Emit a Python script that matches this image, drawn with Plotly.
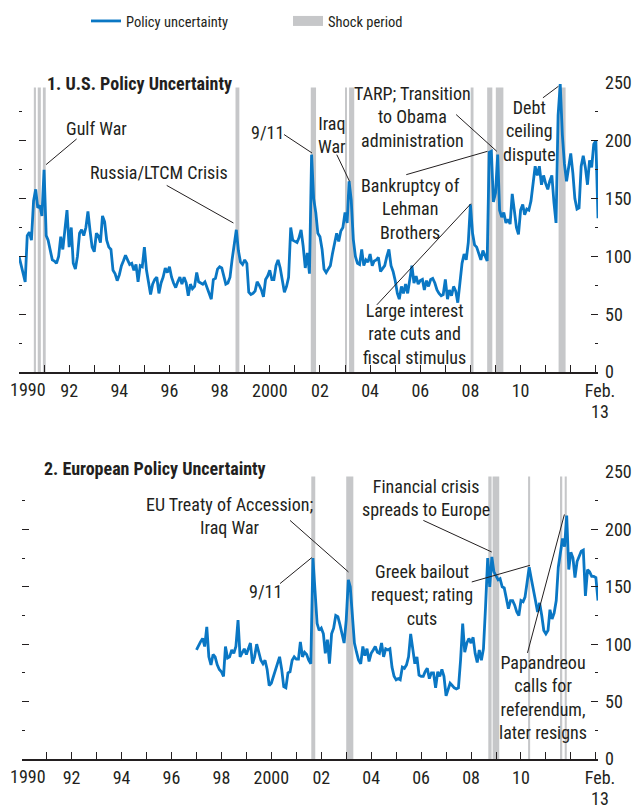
import pandas as pd
import plotly.graph_objects as go

# ---------------- data ----------------
us_values = [
    100, 92, 87, 78, 118, 121, 114, 148, 158, 142, 144, 135,      # 1990
    175, 118, 114, 106, 97, 96, 94, 100, 117, 106, 122, 140,      # 1991
    108, 125, 94, 89, 100, 120, 123, 118, 125, 139, 122, 108,     # 1992
    104, 120, 118, 112, 135, 130, 114, 108, 106, 88, 85, 79,      # 1993
    84, 92, 96, 101, 97, 93, 94, 88, 93, 78, 92, 91,              # 1994
    108, 88, 78, 67, 76, 80, 82, 68, 77, 82, 90, 86,              # 1995
    91, 82, 77, 73, 78, 82, 76, 82, 77, 66, 76, 72,               # 1996
    74, 86, 78, 77, 76, 78, 73, 67, 63, 80, 81, 89,               # 1997
    91, 90, 82, 76, 77, 82, 97, 112, 123, 105, 95, 93,            # 1998
    97, 94, 69, 67, 68, 70, 78, 75, 71, 65, 80, 83,               # 1999
    88, 80, 80, 92, 97, 90, 80, 69, 74, 82, 125, 114,             # 2000
    113, 112, 116, 123, 109, 90, 103, 85, 188, 150, 138, 120,     # 2001
    117, 106, 89, 86, 89, 92, 102, 112, 120, 113, 122, 125,       # 2002
    138, 129, 165, 149, 115, 100, 94, 93, 106, 92, 97, 95,        # 2003
    102, 92, 96, 97, 99, 87, 89, 92, 100, 106, 92, 87,            # 2004
    79, 68, 63, 74, 68, 76, 68, 79, 92, 77, 83, 76,               # 2005
    79, 80, 71, 79, 74, 80, 81, 77, 71, 68, 66, 67,               # 2006
    80, 63, 71, 66, 74, 70, 60, 77, 94, 102, 97, 112,             # 2007
    145, 120, 110, 108, 103, 97, 105, 100, 96, 190, 191, 147,     # 2008
    155, 188, 140, 134, 138, 129, 132, 128, 154, 140, 125, 119,   # 2009
    140, 145, 136, 141, 140, 148, 165, 178, 170, 178, 162, 170,   # 2010
    163, 158, 165, 170, 147, 129, 222, 249, 205, 180, 165, 178,   # 2011
    189, 172, 150, 141, 142, 178, 187, 177, 162, 183, 177, 197,   # 2012
    200, 133,                                                     # 2013
]

eu_values = [
    95, 99, 102, 105, 98, 115, 89, 82, 91, 89, 82, 78,            # 1997
    76, 72, 98, 88, 89, 95, 92, 98, 121, 89, 93, 96,              # 1998
    91, 96, 101, 83, 89, 100, 92, 86, 83, 86, 78, 64,             # 1999
    66, 72, 78, 83, 89, 78, 63, 62, 75, 76, 86, 89,               # 2000
    87, 87, 102, 89, 93, 91, 86, 83, 175, 147, 118, 112,          # 2001
    114, 109, 92, 104, 83, 109, 114, 125, 124, 117, 109, 101,     # 2002
    121, 156, 150, 124, 101, 93, 86, 83, 98, 90, 96, 85,          # 2003
    92, 95, 98, 93, 92, 101, 89, 96, 95, 96, 80, 72,              # 2004
    69, 70, 69, 80, 79, 82, 89, 109, 93, 83, 89, 73,              # 2005
    72, 72, 76, 79, 70, 75, 75, 62, 76, 72, 78, 72,               # 2006
    55, 62, 66, 64, 62, 61, 62, 86, 118, 93, 101, 105,            # 2007
    101, 106, 92, 84, 95, 86, 96, 133, 175, 150, 176, 163,        # 2008
    160, 156, 157, 150, 149, 138, 131, 138, 138, 134, 128, 125,   # 2009
    138, 137, 141, 154, 167, 157, 149, 138, 128, 136, 125, 112,   # 2010
    109, 112, 130, 122, 127, 138, 167, 180, 192, 185, 212, 165,   # 2011
    180, 175, 158, 172, 177, 181, 182, 142, 165, 163, 159, 159,   # 2012
    158, 138,                                                     # 2013
]

us_shock_start = ["1990-08-05", "1990-10-01", "1990-12-15", "1998-08-20", "2001-08-20",
                  "2003-01-01", "2003-03-01", "2008-01-05", "2008-09-01", "2009-01-05",
                  "2011-07-08"]
us_shock_end = ["1990-09-05", "1990-11-15", "1991-01-25", "1998-10-15", "2001-11-05",
                "2003-01-25", "2003-05-15", "2008-02-15", "2008-11-15", "2009-04-25",
                "2011-10-18"]

eu_shock_start = ["2001-08-08", "2003-01-01", "2008-09-10", "2008-11-12", "2010-04-15",
                  "2011-07-26", "2011-10-05"]
eu_shock_end = ["2001-10-05", "2003-04-15", "2008-10-28", "2009-02-17", "2010-05-15",
                "2011-08-28", "2011-11-02"]

NB = "\u00a0"
tick_years = list(range(1990, 2013))
# the first label ("1990") sits right of its tick in the original, so it is placed separately
first_tick_label = "1990"
tick_labels = ["", "", "92", "", "94", "", "96", "", "98", "", "2000", "",
               "02", "", "04", "", "06", "", "08", "", "10", "", ""]
end_tick_label = NB * 2 + "Feb."
end_tick_label_2 = "13"

# ---------------- style ----------------
FONT = "Roboto Condensed, Liberation Sans Narrow, Arial Narrow, sans-serif"
INK = "#231f20"
BLUE = "#0a77c4"
GRAY = "#c6c7c9"
SHOCK_TOP = 246

us_dates = pd.date_range("1990-01-01", periods=len(us_values), freq="MS")
eu_dates = pd.date_range("1997-01-01", periods=len(eu_values), freq="MS")


def fy(v):
    y = int(v)
    return pd.Timestamp(y, 1, 1) + pd.Timedelta(days=(v - y) * 365.25)


def shock_bars(starts, ends, xa, ya):
    s = pd.to_datetime(starts)
    e = pd.to_datetime(ends)
    mid = s + (e - s) / 2
    width = [(b - a) / pd.Timedelta(milliseconds=1) for a, b in zip(s, e)]
    return go.Bar(x=mid, y=[SHOCK_TOP] * len(s), width=width, base=0,
                  marker=dict(color=GRAY, line=dict(width=0)),
                  showlegend=False, hoverinfo="skip", xaxis=xa, yaxis=ya)


fig = go.Figure()
fig.add_trace(shock_bars(us_shock_start, us_shock_end, "x", "y"))
fig.add_trace(shock_bars(eu_shock_start, eu_shock_end, "x2", "y2"))
fig.add_trace(go.Scatter(x=us_dates, y=us_values, mode="lines", name="Policy uncertainty",
                         line=dict(color=BLUE, width=2.8), xaxis="x", yaxis="y",
                         legend="legend"))
fig.add_trace(go.Scatter(x=eu_dates, y=eu_values, mode="lines", showlegend=False,
                         line=dict(color=BLUE, width=2.8), xaxis="x2", yaxis="y2"))
fig.add_trace(go.Scatter(x=[None], y=[None], mode="lines", name="Shock period",
                         line=dict(color=GRAY, width=10), xaxis="x", yaxis="y",
                         legend="legend2"))

tickvals = [pd.Timestamp(y, 1, 1) for y in tick_years] + [pd.Timestamp(2013, 1, 1)]
ticktext = tick_labels + [end_tick_label]

xcommon = dict(type="date", range=["1990-01-01", "2013-02-01"], tickmode="array",
               tickvals=tickvals, ticktext=ticktext, ticks="inside", ticklen=7,
               tickwidth=1.2, tickcolor=INK, showline=True, linecolor=INK, linewidth=1.5,
               showgrid=False, zeroline=False, tickfont=dict(family=FONT, size=18, color=INK),
               ticklabelstandoff=2)
ycommon = dict(side="right", range=[0, 250], tickmode="linear", tick0=0, dtick=50,
               ticks="inside", ticklen=7, tickwidth=1.2, tickcolor=INK, mirror="ticks",
               showline=False, showgrid=False, zeroline=False,
               minor=dict(dtick=25, tick0=0, ticks="inside", ticklen=3, tickwidth=1.2,
                          tickcolor=INK, showgrid=False),
               tickfont=dict(family=FONT, size=18, color=INK), ticklabelstandoff=6)

fig.update_layout(
    width=636, height=808,
    margin=dict(l=19, r=38, t=83, b=49, autoexpand=False),
    paper_bgcolor="white", plot_bgcolor="white",
    font=dict(family=FONT, size=18, color=INK),
    barmode="overlay",
    xaxis=dict(domain=[0, 1], anchor="y", **xcommon),
    xaxis2=dict(domain=[0.0047, 1], anchor="y2", **xcommon),
    yaxis=dict(domain=[0.5725, 1], anchor="x", **ycommon),
    yaxis2=dict(domain=[0, 0.4246], anchor="x2", **ycommon),
    legend=dict(x=0.1157, y=1.0917, xanchor="left", yanchor="middle", orientation="h",
                bgcolor="rgba(0,0,0,0)", font=dict(family=FONT, size=14.5, color=INK)),
    legend2=dict(x=0.4646, y=1.0917, xanchor="left", yanchor="middle", orientation="h",
                 bgcolor="rgba(0,0,0,0)", font=dict(family=FONT, size=14.5, color=INK)),
    hovermode=False,
)

# first x label and second line of the last x label ("Feb." / "13") for each panel
for y_first, y_end in ((0.5466, 0.5141), (-0.0259, -0.0577)):
    fig.add_annotation(text=first_tick_label, xref="paper", yref="paper", x=0.0147, y=y_first,
                       xanchor="center", yanchor="middle", showarrow=False,
                       font=dict(family=FONT, size=18, color=INK))
    fig.add_annotation(text=end_tick_label_2, xref="paper", yref="paper", x=1.0026, y=y_end,
                       xanchor="center", yanchor="middle", showarrow=False,
                       font=dict(family=FONT, size=18, color=INK))

# panel titles
fig.add_annotation(text="<b>1. U.S. Policy Uncertainty</b>", xref="paper", yref="paper",
                   x=0.0449, y=1.0, xanchor="left", yanchor="middle", showarrow=False,
                   font=dict(family=FONT, size=18, color=INK))
fig.add_annotation(text="<b>2. European Policy Uncertainty</b>", xref="paper", yref="paper",
                   x=0.0392, y=0.429, xanchor="left", yanchor="middle", showarrow=False,
                   font=dict(family=FONT, size=18, color=INK))

# event labels: (text, text pos, leader start, leader end)
us_notes = [
    ("Gulf War", (1993.09, 210.6), (1992.30, 201.6), (1991.08, 179.4)),
    ("Russia/LTCM Crisis", (1995.57, 172.4), (1995.89, 161.4), (1998.55, 128.9)),
    ("9/11", (1999.89, 207.1), (2000.57, 205.4), (2001.68, 189.5)),
    ("Iraq<br>War", (2002.48, 205.4), (2002.67, 188.0), (2003.18, 164.9)),
    ("TARP; Transition<br>to Obama<br>administration", (2005.70, 221.0), (2007.43, 222.7), (2009.05, 190.9)),
    ("Debt<br>ceiling<br>dispute", (2010.34, 208.8), (2010.89, 237.2), (2011.51, 247.2)),
    ("Bankruptcy of<br>Lehman<br>Brothers", (2005.62, 141.2), (2005.44, 170.7), (2008.68, 190.9)),
    ("Large interest<br>rate cuts and<br>fiscal stimulus", (2005.76, 32.9), (2004.27, 58.1), (2008.02, 145.6)),
]
eu_notes = [
    ("EU Treaty of Accession;<br>Iraq War", (1998.31, 211.3), (2000.75, 207.8), (2003.09, 162.9)),
    ("9/11", (1999.75, 145.7), (2000.35, 152.8), (2001.62, 175.4)),
    ("Financial crisis<br>spreads to Europe", (2006.18, 227.4), (2006.09, 207.8), (2008.83, 180.3)),
    ("Greek bailout<br>request; rating<br>cuts", (2006.03, 142.6), (2008.03, 154.2), (2010.36, 168.7)),
    ("Papandreou<br>calls for<br>referendum,<br>later resigns", (2010.87, 53.5), (2010.26, 92.4), (2011.74, 213.0)),
]

for notes, xr, yr in [(us_notes, "x", "y"), (eu_notes, "x2", "y2")]:
    for text, (tx, ty), (x0, y0), (x1, y1) in notes:
        fig.add_annotation(text=text, x=fy(tx), y=ty, xref=xr, yref=yr, showarrow=False,
                           xanchor="center", yanchor="middle", align="center",
                           font=dict(family=FONT, size=18, color=INK))
        fig.add_shape(type="line", xref=xr, yref=yr, x0=fy(x0), y0=y0, x1=fy(x1), y1=y1,
                      line=dict(color=INK, width=1))

# remove the browser's default 8px page margin so the figure sits at the page origin
fig.write_html("out.html", config={"displayModeBar": False},
               post_script="document.body.style.margin='0px';")
